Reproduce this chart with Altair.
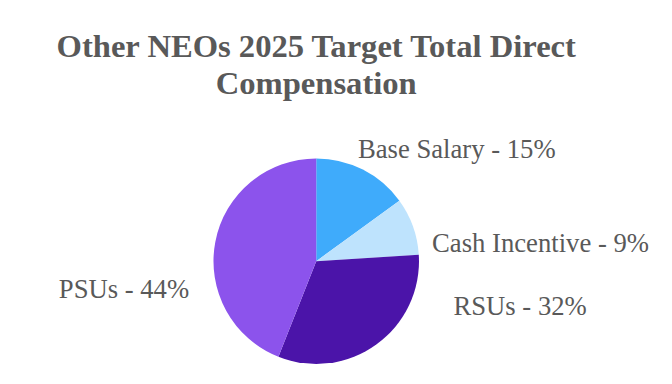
import altair as alt
import pandas as pd

categories = ["Base Salary", "Cash Incentive", "RSUs", "PSUs"]
values = [15, 9, 32, 44]
colors = ["#3FABFB", "#BEE3FD", "#4B14A9", "#8C53EC"]

df = pd.DataFrame({
    "category": categories,
    "value": values,
    "order": list(range(len(categories))),
})
df["label"] = df["category"] + " - " + df["value"].astype(str) + "%"

color_scale = alt.Scale(domain=categories, range=colors)

pie = alt.Chart(df).mark_arc(outerRadius=104).encode(
    theta=alt.Theta("value:Q", stack=True),
    order=alt.Order("order:Q"),
    color=alt.Color("category:N", scale=color_scale, legend=None),
)

# label style offsets (dx, dy) relative to slice mid-angle at radius 135
label_offsets = {
    "Base Salary": (81, 16),
    "Cash Incentive": (100, 36),
    "RSUs": (127, -55),
    "PSUs": (-62, 63),
}

text_base = alt.Chart(df).transform_window(
    cum="sum(value)", sort=[alt.SortField("order")],
    frame=[None, 0],
).transform_calculate(mid="datum.cum - datum.value / 2")

layers = [pie]
for cat in categories:
    dx, dy = label_offsets[cat]
    layers.append(
        text_base.transform_filter(alt.datum.category == cat).mark_text(
            radius=135, dx=dx, dy=dy, align="center", baseline="alphabetic",
            font="Liberation Serif", fontSize=27, color="#595959",
        ).encode(
            theta=alt.Theta("mid:Q", stack=False),
            text="label:N",
        )
    )

chart = alt.layer(*layers).properties(
    width=616,
    height=230,
    padding={"left": 4, "top": 139, "right": 44, "bottom": 0},
    autosize=alt.AutoSizeParams(type="none"),
    title=alt.TitleParams(
        text=["Other NEOs 2025 Target Total Direct", "Compensation"],
        font="Liberation Serif", fontSize=33, fontWeight="bold",
        color="#595959", anchor="middle", lineHeight=37, offset=36,
    ),
).configure_view(stroke=None)

chart.save("out.html", embed_options={"renderer": "svg", "actions": False})
